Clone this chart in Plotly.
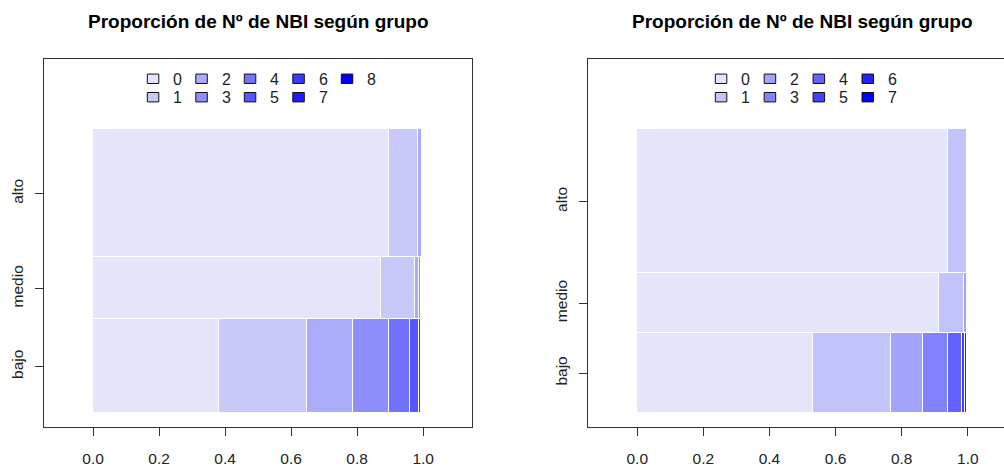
import plotly.graph_objects as go

W, H = 1004, 467

# ---------------- data ----------------
groups = ["bajo", "medio", "alto"]
title_text = "Proporción de Nº de NBI según grupo"

# left panel: categories 0..8
cats_left = ["0", "1", "2", "3", "4", "5", "6", "7", "8"]
group_share_left = [0.330, 0.220, 0.450]
props_left_bajo = [0.381, 0.267, 0.141, 0.108, 0.065, 0.025, 0.008, 0.003, 0.002]
props_left_medio = [0.873, 0.103, 0.012, 0.007, 0.003, 0.002, 0.0, 0.0, 0.0]
props_left_alto = [0.897, 0.089, 0.011, 0.003, 0.0, 0.0, 0.0, 0.0, 0.0]

# right panel: categories 0..7
cats_right = ["0", "1", "2", "3", "4", "5", "6", "7"]
group_share_right = [0.283, 0.210, 0.507]
props_right_bajo = [0.534, 0.235, 0.097, 0.075, 0.041, 0.010, 0.005, 0.003]
props_right_medio = [0.914, 0.076, 0.008, 0.002, 0.0, 0.0, 0.0, 0.0]
props_right_alto = [0.940, 0.058, 0.002, 0.0, 0.0, 0.0, 0.0, 0.0]

x_ticks = [0.0, 0.2, 0.4, 0.6, 0.8, 1.0]
x_ticktext = ["0.0", "0.2", "0.4", "0.6", "0.8", "1.0"]


def ramp(n, start=(228, 228, 250), end=(0, 0, 255)):
    out = []
    for i in range(n):
        t = i / (n - 1)
        c = [round(s + (e - s) * t) for s, e in zip(start, end)]
        out.append("rgb(%d,%d,%d)" % tuple(c))
    return out


def centers(shares):
    c, acc = [], 0.0
    for s in shares:
        c.append(acc + s / 2)
        acc += s
    return c


fig = go.Figure()

FONT = "Liberation Sans, Arial, sans-serif"


def add_panel(cats, shares, rows, xa, ya):
    cols = ramp(len(cats))
    ys = centers(shares)
    for k, cat in enumerate(cats):
        vals = [r[k] if r[k] > 0 else None for r in rows]
        fig.add_trace(go.Bar(
            x=vals, y=ys, width=shares, orientation="h",
            marker=dict(color=cols[k], line=dict(color="white", width=1)),
            name=cat, showlegend=False, xaxis=xa, yaxis=ya,
            hovertemplate="%{x}<extra>" + cat + "</extra>",
        ))
    return ys, cols


ys_l, cols_l = add_panel(cats_left, group_share_left,
                         [props_left_bajo, props_left_medio, props_left_alto], "x", "y")
ys_r, cols_r = add_panel(cats_right, group_share_right,
                         [props_right_bajo, props_right_medio, props_right_alto], "x2", "y2")

# ---------------- layout ----------------
px = lambda v: v / W
py = lambda v: 1 - v / H

ydom = [py(430.7), py(60)]
axis_common = dict(showgrid=False, zeroline=False, linecolor="#333", linewidth=1,
                   ticks="outside", ticklen=8, tickcolor="#333",
                   tickfont=dict(family=FONT, size=15.5, color="#222"))

xr_left = [-0.148, 1.148]
xr_right = [-0.148, -0.148 + (W - 588.3) / 330.6]

fig.update_layout(
    width=W, height=H, margin=dict(l=0, r=0, t=0, b=0),
    paper_bgcolor="white", plot_bgcolor="white",
    barmode="stack", bargap=0,
    xaxis=dict(domain=[px(44.3), px(472)], range=xr_left, tickvals=x_ticks, ticktext=x_ticktext,
               showline=True, mirror=True, ticklabelstandoff=9, **axis_common),
    yaxis=dict(domain=ydom, range=[-0.048, 1.248], tickvals=ys_l, ticktext=groups, tickangle=-90,
               showline=True, mirror=True, ticklabelstandoff=6, **axis_common),
    xaxis2=dict(domain=[px(588.3), 1.0], range=xr_right, tickvals=x_ticks, ticktext=x_ticktext,
                showline=True, mirror=True, anchor="y2", ticklabelstandoff=9, **axis_common),
    yaxis2=dict(domain=ydom, range=[-0.048, 1.248], tickvals=ys_r, ticktext=groups, tickangle=-90,
                showline=True, mirror=False, anchor="x2", ticklabelstandoff=6, **axis_common),
)

annotations = []
shapes = []
for cx in (258.0, 802.7):
    annotations.append(dict(text="<b>" + title_text + "</b>", x=px(cx), y=py(22), xref="paper", yref="paper",
                            xanchor="center", yanchor="middle", showarrow=False,
                            font=dict(family=FONT, size=19, color="black")))


def add_legend(cats, cols, x_start, dx):
    row_top = [74.7, 93.3]
    for i, cat in enumerate(cats):
        c, r = i // 2, i % 2
        x0 = x_start + c * dx
        y0 = row_top[r]
        shapes.append(dict(type="rect", xref="paper", yref="paper",
                           x0=px(x0), x1=px(x0 + 11.5), y0=py(y0 + 9.5), y1=py(y0),
                           fillcolor=cols[i], line=dict(color="#111", width=1)))
        annotations.append(dict(text=cat, x=px(x0 + 24), y=py(y0 + 5), xref="paper", yref="paper",
                                xanchor="left", yanchor="middle", showarrow=False,
                                font=dict(family=FONT, size=16, color="#222")))


add_legend(cats_left, cols_l, 147.3, 48.5)
add_legend(cats_right, cols_r, 715.3, 48.9)

fig.update_layout(annotations=annotations, shapes=shapes)

fig.write_html("out.html")
